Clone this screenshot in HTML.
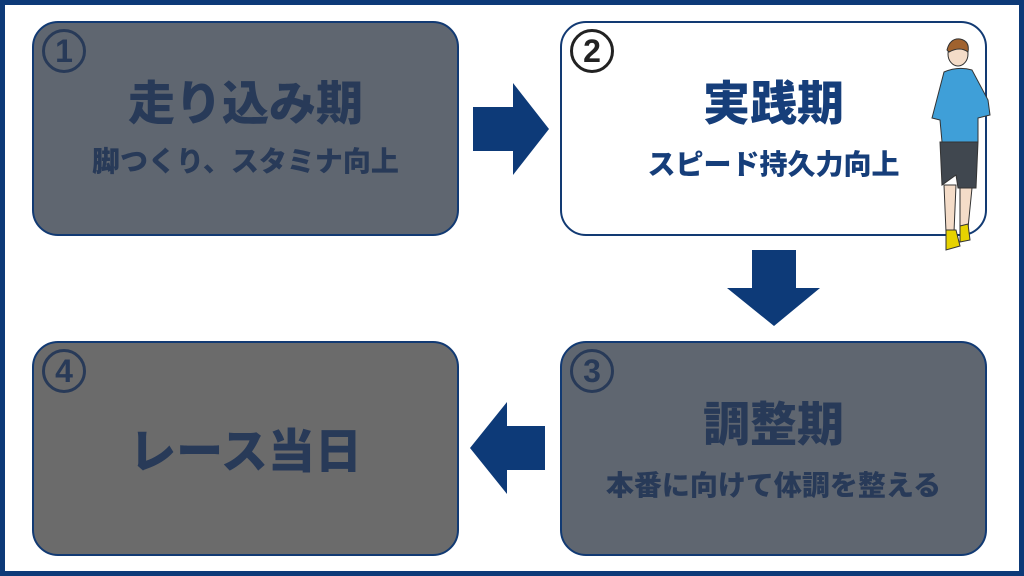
<!DOCTYPE html>
<html><head><meta charset="utf-8"><style>
body{margin:0;width:1024px;height:576px;overflow:hidden;background:#fff;font-family:"Liberation Sans","Noto Sans CJK JP",sans-serif}
.frame{position:absolute;left:0;top:0;width:1014px;height:566px;border:5px solid #0d3a78;background:#fff}
.box{position:absolute;width:427px;height:215px;border:2px solid #123a73;border-radius:26px;box-sizing:border-box;text-align:center;font-weight:900;color:#283a58}
.num{position:absolute;left:8px;top:6px;width:38px;height:38px;border:3px solid #283a58;border-radius:50%;font-size:32px;line-height:38px;text-align:center;font-family:"Liberation Sans",sans-serif;font-weight:bold}
.t{position:absolute;left:0;right:0;font-size:47px;line-height:48px;top:57px;white-space:nowrap}
.s{position:absolute;left:0;right:0;font-size:28px;line-height:28px;top:125px;white-space:nowrap}
</style></head><body>
<div class="frame"></div>
<div class="box" style="left:32px;top:21px;background:#5f6670"><div class="num">1</div><div class="t">走り込み期</div><div class="s">脚つくり、スタミナ向上</div></div>
<div class="box" style="left:560px;top:21px;background:#fff;color:#163e7a"><div class="num" style="color:#222;border-color:#222">2</div><div class="t">実践期</div><div class="s" style="top:128px">スピード持久力向上</div></div>
<div class="box" style="left:560px;top:341px;background:#5f6670"><div class="num">3</div><div class="t" style="top:58px">調整期</div><div class="s" style="top:129px">本番に向けて体調を整える</div></div>
<div class="box" style="left:32px;top:341px;background:#6b6b6b"><div class="num">4</div><div class="t" style="top:85px">レース当日</div></div>
<svg style="position:absolute;left:0;top:0" width="1024" height="576">
<polygon points="473,107 513,107 513,83 549,129 513,175 513,151 473,151" fill="#0d3a78"/>
<polygon points="752,250 796,250 796,288 820,288 774,326 727,288 752,288" fill="#0d3a78"/>
<polygon points="545,426 507,426 507,402 470,448 507,494 507,470 545,470" fill="#0d3a78"/>
<g stroke="#333" stroke-width="1">
<ellipse cx="958" cy="54" rx="10" ry="12" fill="#f4dcc8"/>
<path d="M947,50 Q950,38 960,39 Q970,41 968,52 Q960,46 949,52Z" fill="#a0622e"/>
<path d="M944,72 Q958,66 972,70 L988,100 L990,115 L978,118 L978,142 L942,142 L940,120 L932,118 Z" fill="#3f9fd8"/>
<path d="M940,142 L978,142 L976,188 L958,188 L956,175 L942,185Z" fill="#40474f"/>
<path d="M944,185 L956,185 L954,232 L946,232Z" fill="#f4dcc8"/>
<path d="M960,188 L972,188 L968,228 L960,228Z" fill="#f4dcc8"/>
<path d="M946,230 L956,230 L960,246 L946,250Z" fill="#e6d200"/>
<path d="M960,226 L968,224 L970,240 L960,242Z" fill="#e6d200"/>
</g>
</svg>
</body></html>
